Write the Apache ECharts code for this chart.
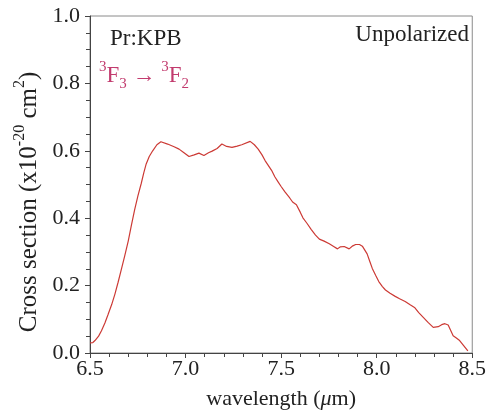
<!DOCTYPE html>
<html>
<head>
<meta charset="utf-8">
<script src="https://cdn.jsdelivr.net/npm/echarts@6/dist/echarts.min.js"></script>
<style>html,body{margin:0;padding:0;background:#fff;}#c{width:489px;height:415px;}</style>
</head>
<body>
<div id="c"></div>
<script>
const wavelengths = [6.50,6.515,6.526,6.545,6.56,6.578,6.595,6.613,6.63,6.647,6.664,6.682,6.70,6.717,6.734,6.751,6.768,6.781,6.794,6.81,6.828,6.85,6.871,6.906,6.94,6.966,6.99,7.018,7.045,7.07,7.096,7.12,7.139,7.165,7.19,7.215,7.243,7.27,7.294,7.338,7.36,7.38,7.40,7.416,7.45,7.467,7.484,7.50,7.52,7.545,7.56,7.58,7.60,7.614,7.635,7.657,7.68,7.70,7.725,7.752,7.775,7.795,7.81,7.83,7.856,7.875,7.89,7.91,7.925,7.95,7.965,7.977,7.995,8.011,8.03,8.046,8.07,8.097,8.12,8.149,8.175,8.20,8.22,8.245,8.27,8.296,8.322,8.34,8.357,8.374,8.40,8.415,8.434,8.455,8.477];
const crossSections = [0.030,0.031,0.037,0.050,0.066,0.089,0.115,0.143,0.174,0.210,0.248,0.289,0.332,0.380,0.426,0.467,0.503,0.534,0.561,0.583,0.60,0.618,0.627,0.62,0.612,0.605,0.595,0.583,0.588,0.593,0.586,0.594,0.599,0.607,0.62,0.613,0.61,0.614,0.618,0.628,0.618,0.605,0.588,0.571,0.542,0.523,0.508,0.494,0.478,0.46,0.448,0.44,0.418,0.401,0.385,0.367,0.350,0.338,0.332,0.324,0.316,0.309,0.315,0.316,0.309,0.318,0.322,0.322,0.317,0.294,0.27,0.251,0.23,0.212,0.197,0.187,0.177,0.168,0.161,0.153,0.143,0.134,0.12,0.105,0.09,0.076,0.078,0.084,0.087,0.083,0.051,0.045,0.037,0.022,0.006];
const xTicks = {min: 6.5, max: 8.5, interval: 0.5};
const yTicks = {min: 0, max: 1.0, interval: 0.2};

const FONT = 'Liberation Serif';
const chart = echarts.init(document.getElementById('c'), null, {renderer: 'canvas'});
const data = wavelengths.map((w, i) => [w, crossSections[i]]);

chart.setOption({
  animation: false,
  backgroundColor: '#fff',
  grid: {left: 90, right: 13, top: 16, bottom: 56, show: true, borderColor: '#8a8a8a', borderWidth: 1},
  xAxis: {
    type: 'value', min: xTicks.min, max: xTicks.max, interval: xTicks.interval,
    name: 'wavelength ({mu|\u03bc}m)', nameLocation: 'middle', nameGap: 35,
    nameTextStyle: {fontFamily: FONT, fontSize: 22, color: '#222',
      rich: {mu: {fontFamily: FONT, fontSize: 22, fontStyle: 'italic', color: '#222'}}},
    axisLine: {show: true, lineStyle: {color: '#444', width: 1}},
    axisTick: {show: true, inside: false, length: 5, lineStyle: {color: '#444'}},
    minorTick: {show: true, splitNumber: 5, length: 4, lineStyle: {color: '#444'}},
    splitLine: {show: false},
    axisLabel: {fontFamily: FONT, fontSize: 22, color: '#222', margin: 5,
      formatter: v => v.toFixed(1)}
  },
  yAxis: {
    type: 'value', min: yTicks.min, max: yTicks.max, interval: yTicks.interval,
    axisLine: {show: true, lineStyle: {color: '#444', width: 1}},
    axisTick: {show: true, inside: false, length: 5, lineStyle: {color: '#444'}},
    minorTick: {show: true, splitNumber: 4, length: 4, lineStyle: {color: '#444'}},
    splitLine: {show: false},
    axisLabel: {fontFamily: FONT, fontSize: 22, color: '#222', margin: 10,
      formatter: v => v.toFixed(1)}
  },
  graphic: [
    {type: 'text', x: 27, y: 202, rotation: Math.PI / 2, style: {
      text: '{b|Cross section (x10}{sup|-20}{b| cm}{sup|2}{b|)}',
      align: 'center', verticalAlign: 'middle',
      rich: {
        b: {fontFamily: FONT, fontSize: 25, fill: '#222', lineHeight: 30, verticalAlign: 'bottom'},
        sup: {fontFamily: FONT, fontSize: 16, fill: '#222', lineHeight: 30, verticalAlign: 'top'}
      }
    }},
    {type: 'text', left: 110, top: 27, style: {text: 'Pr:KPB', font: '23px "Liberation Serif"', fill: '#222'}},
    {type: 'text', right: 20, top: 23, style: {text: 'Unpolarized', font: '23px "Liberation Serif"', fill: '#222'}},
    {type: 'text', left: 99, top: 60, style: {
      text: '{sup|3}{b|F}{sub|3}{b| \u2192 }{sup|3}{b|F}{sub|2}',
      rich: {
        b: {fontFamily: FONT, fontSize: 23, fill: '#c23b6e', lineHeight: 32, verticalAlign: 'middle'},
        sup: {fontFamily: FONT, fontSize: 15, fill: '#c23b6e', lineHeight: 32, verticalAlign: 'top'},
        sub: {fontFamily: FONT, fontSize: 15, fill: '#c23b6e', lineHeight: 32, verticalAlign: 'bottom'}
      }
    }}
  ],
  series: [{
    type: 'line', data: data, showSymbol: false, smooth: false,
    lineStyle: {color: '#cc3a35', width: 1.2}
  }]
});
</script>
</body>
</html>
